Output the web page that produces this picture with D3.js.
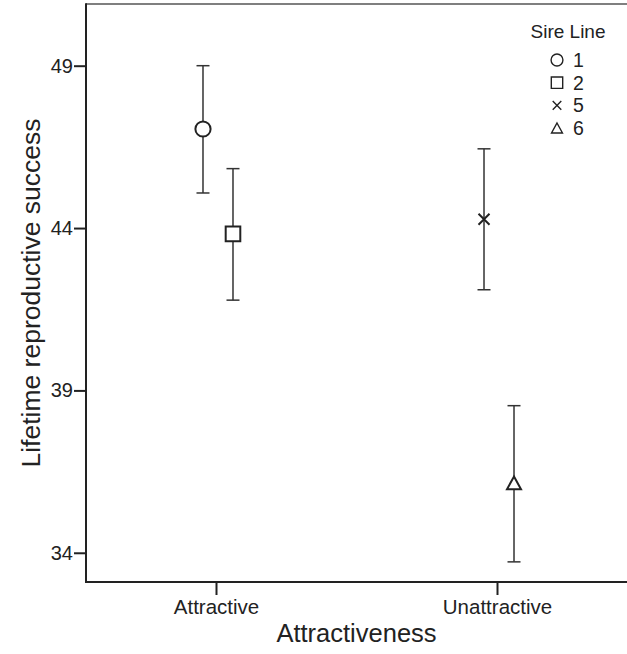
<!DOCTYPE html>
<html>
<head>
<meta charset="utf-8">
<script src="https://cdn.jsdelivr.net/npm/d3@7"></script>
<style>
    body { margin: 0; background: #fff; }
    svg { display: block; font-family: "Liberation Sans", Arial, sans-serif; }
</style>
</head>
<body>
<svg id="chart"></svg>
<script>
const categories = ['Attractive', 'Unattractive'];
const sireLines = ['1', '2', '5', '6'];
const sireGroup = ['Attractive', 'Attractive', 'Unattractive', 'Unattractive'];
const sireSlot = [0, 1, 0, 1];
const means = [47.05, 43.82, 44.27, 36.15];
const lower = [45.08, 41.78, 42.10, 33.72];
const upper = [49.00, 45.83, 46.44, 38.53];
const yTicks = [34, 39, 44, 49];
const shapes = ['circle', 'square', 'times', 'triangle'];

const width = 627;
const height = 654;
const margin = { top: 4, right: 0, bottom: 72, left: 86 };
const ink = '#222';

const svg = d3.select('#chart')
    .attr('width', width)
    .attr('height', height);

const x = d3.scalePoint()
    .domain(categories)
    .range([margin.left, width - margin.right])
    .padding(0.4626);

const slot = d3.scalePoint()
    .domain([0, 1])
    .range([-13, 17]);

const y = d3.scaleLinear()
    .domain([33.1, 50.9])
    .range([height - margin.bottom, margin.top]);

// marker shapes, s = scale factor (1 = plot size)
function markerPath(shape, s) {
    const p = d3.path();
    if (shape === 'circle') {
        const r = 7.6 * s;
        p.moveTo(r, 0);
        p.arc(0, 0, r, 0, 2 * Math.PI);
    } else if (shape === 'square') {
        const h = 7.3 * s;
        p.rect(-h, -h, 2 * h, 2 * h);
    } else if (shape === 'times') {
        const h = 5.5 * s;
        p.moveTo(-h, -h); p.lineTo(h, h);
        p.moveTo(-h, h); p.lineTo(h, -h);
    } else if (shape === 'triangle') {
        const w = 7 * s, top = 6.5 * s, bot = 6.3 * s;
        p.moveTo(0, -top);
        p.lineTo(w, bot);
        p.lineTo(-w, bot);
        p.closePath();
    }
    return p.toString();
}

// frame
const x0 = margin.left, x1 = width - margin.right;
const yTop = margin.top, yBot = height - margin.bottom;
svg.append('line')
    .attr('x1', x0).attr('x2', x1).attr('y1', yTop).attr('y2', yTop)
    .attr('stroke', '#555').attr('stroke-width', 1.5);

// y axis
const yAxis = svg.append('g')
    .attr('transform', `translate(${x0},0)`)
    .call(d3.axisLeft(y).tickValues(yTicks).tickSize(12).tickPadding(1).tickSizeOuter(0));
yAxis.select('.domain').remove();
yAxis.selectAll('.tick line').attr('stroke', ink).attr('stroke-width', 2);
yAxis.selectAll('.tick text').attr('fill', ink).style('font-size', '20px');
svg.append('line')
    .attr('x1', x0).attr('x2', x0).attr('y1', yTop - 0.75).attr('y2', yBot + 1)
    .attr('stroke', ink).attr('stroke-width', 2);

// x axis
const xAxis = svg.append('g')
    .attr('transform', `translate(0,${yBot})`)
    .call(d3.axisBottom(x).tickSize(13).tickPadding(4).tickSizeOuter(0));
xAxis.select('.domain').remove();
xAxis.selectAll('.tick line').attr('stroke', ink).attr('stroke-width', 2);
xAxis.selectAll('.tick text').attr('fill', ink).style('font-size', '20.5px');
svg.append('line')
    .attr('x1', x0 - 1).attr('x2', x1).attr('y1', yBot).attr('y2', yBot)
    .attr('stroke', ink).attr('stroke-width', 2);

// axis titles
svg.append('text')
    .attr('x', (x0 + x1) / 2)
    .attr('y', 642)
    .attr('text-anchor', 'middle')
    .attr('fill', ink)
    .style('font-size', '25.5px')
    .text('Attractiveness');

svg.append('text')
    .attr('transform', `translate(40,${(yTop + yBot) / 2}) rotate(-90)`)
    .attr('text-anchor', 'middle')
    .attr('fill', ink)
    .style('font-size', '26.5px')
    .text('Lifetime reproductive success');

// error bars + markers
const points = sireLines.map((id, i) => ({
    id,
    cx: x(sireGroup[i]) + slot(sireSlot[i]),
    mean: means[i],
    lo: lower[i],
    hi: upper[i],
    shape: shapes[i]
}));

const bars = svg.append('g').selectAll('g')
    .data(points)
    .enter()
    .append('g');

bars.append('line')
    .attr('x1', d => d.cx).attr('x2', d => d.cx)
    .attr('y1', d => y(d.hi)).attr('y2', d => y(d.lo))
    .attr('stroke', '#333').attr('stroke-width', 1.5);

bars.selectAll('.cap')
    .data(d => [d.hi, d.lo].map(v => ({ cx: d.cx, v })))
    .enter()
    .append('line')
    .attr('class', 'cap')
    .attr('x1', d => d.cx - 6.5).attr('x2', d => d.cx + 6.5)
    .attr('y1', d => y(d.v)).attr('y2', d => y(d.v))
    .attr('stroke', '#333').attr('stroke-width', 1.5);

bars.append('path')
    .attr('transform', d => `translate(${d.cx},${y(d.mean)})`)
    .attr('d', d => markerPath(d.shape, 1))
    .attr('fill', d => d.shape === 'times' ? 'none' : '#fff')
    .attr('stroke', ink)
    .attr('stroke-width', 2);

// legend
const legend = svg.append('g');
legend.append('text')
    .attr('x', 568)
    .attr('y', 37.5)
    .attr('text-anchor', 'middle')
    .attr('fill', ink)
    .style('font-size', '19px')
    .text('Sire Line');

const rows = legend.selectAll('.row')
    .data(points)
    .enter()
    .append('g')
    .attr('class', 'row')
    .attr('transform', (d, i) => `translate(557,${60 + i * 22.7})`);

rows.append('path')
    .attr('d', d => markerPath(d.shape, 0.78))
    .attr('fill', 'none')
    .attr('stroke', ink)
    .attr('stroke-width', 1.4);

rows.append('text')
    .attr('x', 16)
    .attr('y', 7)
    .attr('fill', ink)
    .style('font-size', '19.5px')
    .text(d => d.id);
</script>
</body>
</html>
